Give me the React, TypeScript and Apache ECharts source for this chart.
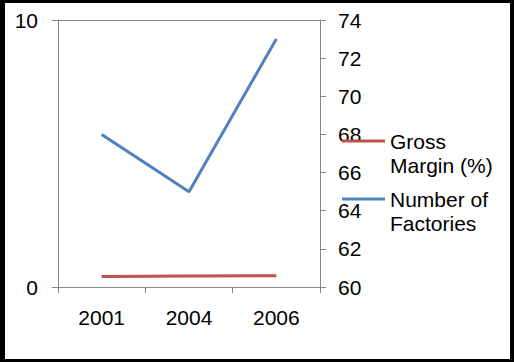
import React, { useEffect, useRef } from "react";
import * as echarts from "echarts";

const categories = ["2001", "2004", "2006"];
const grossMargin = [0.39, 0.41, 0.42];
const factories = [68, 65, 73];
const seriesNames = ["Gross Margin (%)", "Number of Factories"];
const legendLabels: Record<string, string> = {
  "Gross Margin (%)": " \nGross\nMargin (%)",
  "Number of Factories": " \nNumber of\nFactories",
};

const FONT = "'Liberation Sans', Arial, sans-serif";
const AXIS = "#868686";
const FS = 21;

export default function App() {
  const ref = useRef<HTMLDivElement>(null);
  useEffect(() => {
    if (!ref.current) return;
    const chart = echarts.init(ref.current, null, { renderer: "svg" });
    const legendBase = (name: string, top: number) => ({
      data: [name],
      orient: "vertical",
      left: 342,
      top,
      padding: 0,
      itemWidth: 43,
      itemHeight: 3,
      icon: "rect",
      formatter: (n: string) => legendLabels[n] || n,
      textStyle: {
        fontSize: FS,
        fontFamily: FONT,
        color: "#000",
        lineHeight: 24,
      },
    });
    chart.setOption({
      animation: false,
      backgroundColor: "#fff",
      textStyle: { fontFamily: FONT },
      grid: { left: 58, right: 194, top: 20, bottom: 75 },
      legend: [legendBase(seriesNames[0], 105), legendBase(seriesNames[1], 163)],
      xAxis: {
        type: "category",
        data: categories,
        boundaryGap: true,
        axisLine: { show: true, lineStyle: { color: AXIS, width: 1 } },
        axisTick: { show: true, interval: 0, length: 6, lineStyle: { color: AXIS } },
        axisLabel: { fontSize: FS, color: "#000", margin: 20, fontFamily: FONT },
        splitLine: { show: false },
      },
      yAxis: [
        {
          type: "value",
          min: 0,
          max: 10,
          interval: 10,
          position: "left",
          axisLine: { show: true, lineStyle: { color: AXIS, width: 1 } },
          axisTick: { show: true, length: 6, lineStyle: { color: AXIS } },
          axisLabel: { fontSize: FS, color: "#000", margin: 20, fontFamily: FONT },
          splitLine: { show: true, lineStyle: { color: AXIS, width: 1 } },
        },
        {
          type: "value",
          min: 60,
          max: 74,
          interval: 2,
          position: "right",
          axisLine: { show: true, lineStyle: { color: AXIS, width: 1 } },
          axisTick: { show: true, length: 6, lineStyle: { color: AXIS } },
          axisLabel: { fontSize: FS, color: "#000", margin: 18, fontFamily: FONT },
          splitLine: { show: false },
        },
      ],
      series: [
        {
          name: seriesNames[0],
          type: "line",
          yAxisIndex: 0,
          data: grossMargin,
          symbol: "none",
          lineStyle: { color: "#C0504D", width: 3 },
          itemStyle: { color: "#C0504D" },
        },
        {
          name: seriesNames[1],
          type: "line",
          yAxisIndex: 1,
          data: factories,
          symbol: "none",
          lineStyle: { color: "#4F81BD", width: 3 },
          itemStyle: { color: "#4F81BD" },
        },
      ],
    });
    return () => chart.dispose();
  }, []);
  return (
    <div style={{ position: "fixed", left: 0, top: 0, width: 514, height: 362 }}>
      <div ref={ref} style={{ position: "absolute", left: 0, top: 0, width: 514, height: 362 }} />
      <div
        style={{
          position: "absolute",
          left: 0,
          top: 0,
          width: 514,
          height: 362,
          boxSizing: "border-box",
          borderTop: "3px solid #000",
          borderLeft: "5px solid #000",
          borderRight: "4px solid #000",
          borderBottom: "3px solid #000",
          pointerEvents: "none",
        }}
      />
    </div>
  );
}
